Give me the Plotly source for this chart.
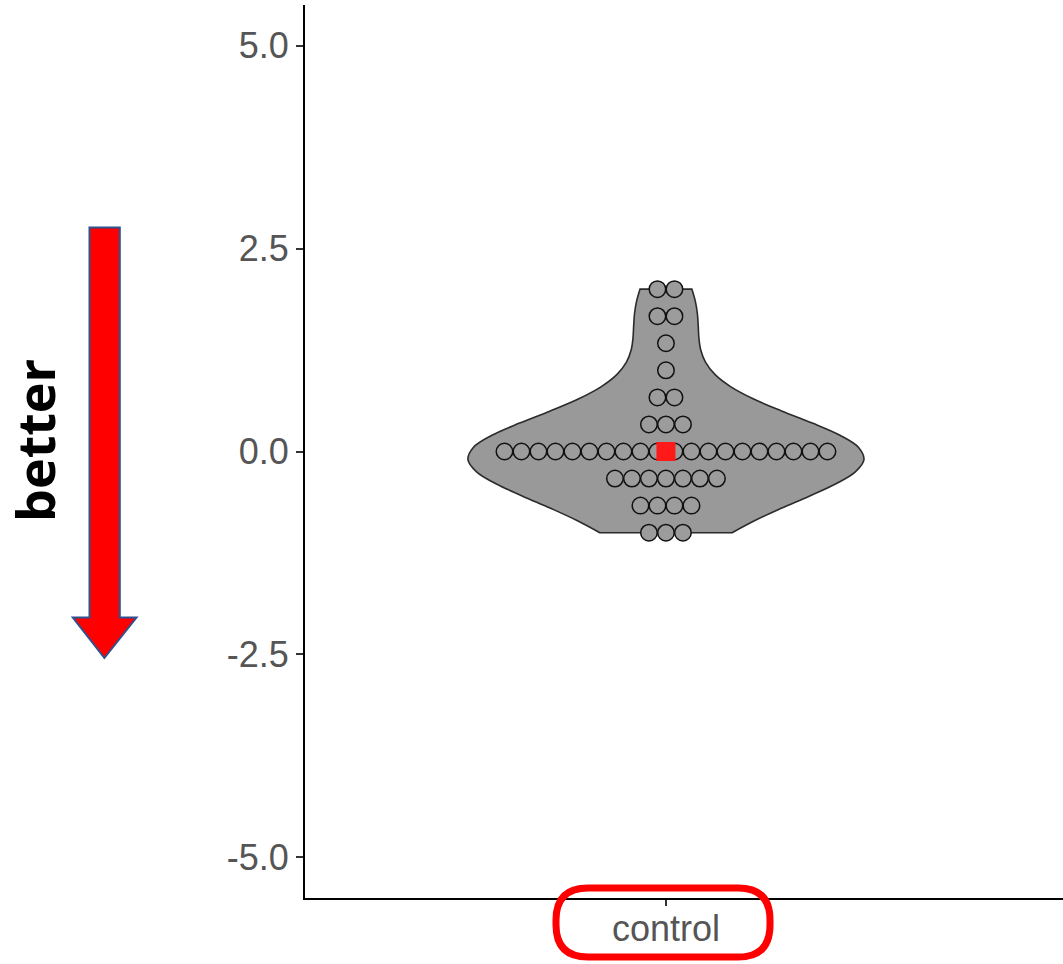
import numpy as np
import plotly.graph_objects as go

# ---------------- data ----------------
category = "control"
score_levels = [2.0, 5/3, 4/3, 1.0, 2/3, 1/3, 0.0, -1/3, -2/3, -1.0]
level_counts = [2, 2, 1, 1, 2, 3, 20, 7, 4, 3]
y_tick_vals = [-5.0, -2.5, 0.0, 2.5, 5.0]
y_tick_text = ["-5.0", "-2.5", "0.0", "2.5", "5.0"]
annotation_text = "better"

scores = np.repeat(score_levels, level_counts)
median_score = float(np.median(scores))

# ---------------- geometry ----------------
W, H = 1063, 964
ML, MR, MT, MB = 305, 0, 5, 66
x_range = [0.4, 1.66]
y_range = [-5.5, 5.5]
plot_w = W - ML - MR
plot_h = H - MT - MB
px_per_unit_x = plot_w / (x_range[1] - x_range[0])
dot_px = 17.0
dot_w = dot_px / px_per_unit_x
x_center = 1.0

def paper_x(p):
    return (p - ML) / plot_w

def paper_y(p):
    return (H - MB - p) / plot_h

# centred dot stacking (like geom_dotplot stackdir="center")
dot_x, dot_y = [], []
for lvl, n in zip(score_levels, level_counts):
    for i in range(n):
        dot_x.append(x_center + (i - (n - 1) / 2) * dot_w)
        dot_y.append(lvl)

fig = go.Figure()

fig.add_trace(go.Violin(
    y=scores, x0=x_center, bandwidth=0.45, spanmode="hard",
    width=396 / px_per_unit_x, scalemode="width",
    fillcolor="#999999", line=dict(color="#2b2b2b", width=1.6),
    points=False, box_visible=False, meanline_visible=False,
    opacity=1, showlegend=False, hoverinfo="skip",
))

fig.add_trace(go.Scatter(
    x=dot_x, y=dot_y, mode="markers",
    marker=dict(size=16.5, color="#9c9c9c", line=dict(color="#111111", width=1.5)),
    showlegend=False, hoverinfo="skip",
))

fig.add_trace(go.Scatter(
    x=[x_center], y=[median_score], mode="markers",
    marker=dict(size=19, symbol="square", color="#ff1a1a", line=dict(width=0)),
    showlegend=False, hoverinfo="skip",
))

# ---------------- decorations ----------------
# red down arrow
ax = [89.5, 119.8, 72.8, 136.5, 104.4]
ay_top, ay_head, ay_tip = 227.5, 617.5, 658.0
arrow_path = (
    f"M {paper_x(ax[0])},{paper_y(ay_top)} L {paper_x(ax[1])},{paper_y(ay_top)} "
    f"L {paper_x(ax[1])},{paper_y(ay_head)} L {paper_x(ax[3])},{paper_y(ay_head)} "
    f"L {paper_x(ax[4])},{paper_y(ay_tip)} L {paper_x(ax[2])},{paper_y(ay_head)} "
    f"L {paper_x(ax[0])},{paper_y(ay_head)} Z"
)
fig.add_shape(type="path", path=arrow_path, xref="paper", yref="paper",
              fillcolor="#ff0000", line=dict(color="#2f528f", width=2), layer="above")

# rounded red box around the category label
bl, br, bt, bb, r = 556, 770, 888, 957, 32
def P(x, y):
    return f"{paper_x(x)},{paper_y(y)}"
box_path = (
    f"M {P(bl + r, bt)} L {P(br - r, bt)} Q {P(br, bt)} {P(br, bt + r)} "
    f"L {P(br, bb - r)} Q {P(br, bb)} {P(br - r, bb)} "
    f"L {P(bl + r, bb)} Q {P(bl, bb)} {P(bl, bb - r)} "
    f"L {P(bl, bt + r)} Q {P(bl, bt)} {P(bl + r, bt)} Z"
)
fig.add_shape(type="path", path=box_path, xref="paper", yref="paper",
              line=dict(color="#ff0000", width=7), fillcolor="rgba(0,0,0,0)", layer="above")

fig.add_annotation(
    text=f"<b>{annotation_text}</b>", xref="paper", yref="paper",
    x=paper_x(34), y=paper_y(441), textangle=-90, showarrow=False,
    font=dict(family="Open Sans", size=52, color="#000000"),
    xanchor="center", yanchor="middle",
)

fig.update_layout(
    width=W, height=H,
    margin=dict(l=ML, r=MR, t=MT, b=MB, pad=0),
    plot_bgcolor="white", paper_bgcolor="white",
    font=dict(family="Liberation Sans, Arial, sans-serif"),
    xaxis=dict(
        range=x_range, tickvals=[x_center], ticktext=[category],
        showline=True, linecolor="#000000", linewidth=2,
        ticks="outside", ticklen=6, tickwidth=2, tickcolor="#333333",
        ticklabelstandoff=-8,
        showgrid=False, zeroline=False,
        tickfont=dict(size=36, color="#555555"),
    ),
    yaxis=dict(
        range=y_range, tickvals=y_tick_vals, ticktext=y_tick_text,
        showline=True, linecolor="#000000", linewidth=2,
        ticks="outside", ticklen=7, tickwidth=2, tickcolor="#333333",
        showgrid=False, zeroline=False,
        tickfont=dict(size=36, color="#555555"),
    ),
)

fig.write_html(
    "out.html",
    config={"displayModeBar": False},
    post_script="document.body.style.margin='0px';document.body.style.overflow='hidden';",
)
